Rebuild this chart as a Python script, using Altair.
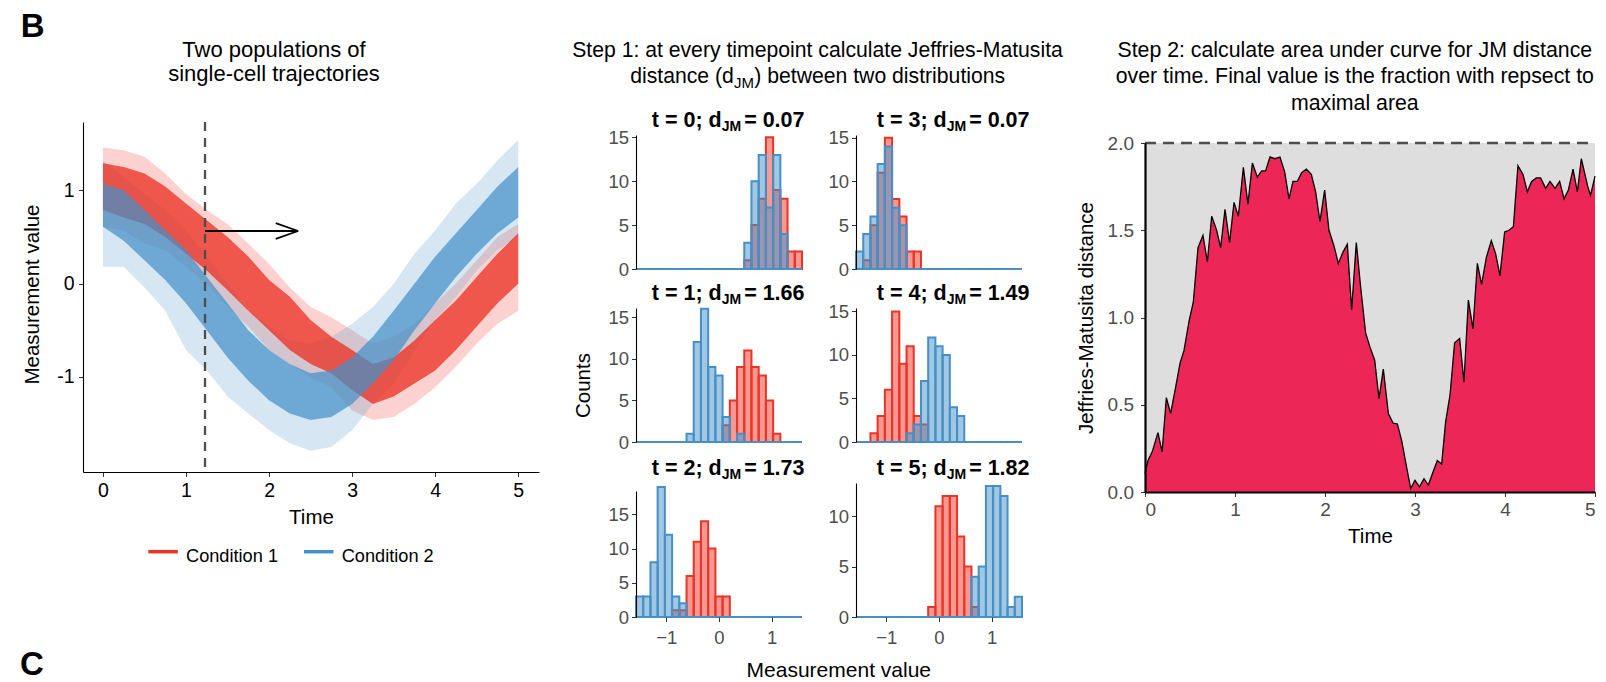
import altair as alt
import pandas as pd

FONT = "Liberation Sans"
RED = "#EC3326"
BLUE = "#4590C8"
CRIMSON = "#EC2657"
PANEL_BG = "#DEDEDE"
GRAY = "#4D4D4D"
TICK = "#333333"

# ---------------- Left panel: envelopes of the single-cell trajectories ----------------
TIME = [0.0, 0.25, 0.5, 0.75, 1.0, 1.25, 1.5, 1.75, 2.0, 2.25, 2.5, 2.75,
        3.0, 3.25, 3.5, 3.75, 4.0, 4.25, 4.5, 4.75, 5.0]
RED_OUTER_HI = [1.46, 1.43, 1.36, 1.18, 0.96, 0.79, 0.64, 0.43, 0.21, -0.04, -0.25, -0.36,
                -0.50, -0.64, -0.57, -0.43, -0.21, 0.00, 0.25, 0.50, 0.64]
RED_CORE_HI = [1.29, 1.25, 1.18, 1.04, 0.86, 0.68, 0.50, 0.29, 0.04, -0.14, -0.39, -0.57,
               -0.71, -0.86, -0.79, -0.61, -0.39, -0.18, 0.07, 0.32, 0.54]
RED_CORE_LO = [0.79, 0.71, 0.64, 0.50, 0.32, 0.14, -0.07, -0.29, -0.50, -0.71, -0.86, -0.96,
               -1.14, -1.29, -1.21, -1.07, -0.93, -0.71, -0.46, -0.21, 0.00]
RED_OUTER_LO = [0.61, 0.57, 0.43, 0.36, 0.18, 0.00, -0.25, -0.46, -0.71, -0.86, -1.00, -1.11,
                -1.36, -1.46, -1.43, -1.29, -1.11, -0.89, -0.64, -0.43, -0.29]
BLUE_OUTER_HI = [1.32, 1.14, 0.96, 0.79, 0.57, 0.29, 0.00, -0.29, -0.46, -0.61, -0.64, -0.57,
                 -0.43, -0.25, 0.00, 0.32, 0.57, 0.86, 1.07, 1.32, 1.54]
BLUE_CORE_HI = [1.07, 1.00, 0.79, 0.57, 0.36, 0.07, -0.21, -0.50, -0.71, -0.86, -0.96, -0.93,
                -0.79, -0.57, -0.29, 0.00, 0.29, 0.54, 0.79, 1.04, 1.25]
BLUE_CORE_LO = [0.61, 0.46, 0.25, 0.04, -0.21, -0.50, -0.79, -1.04, -1.25, -1.39, -1.46, -1.43,
                -1.29, -1.07, -0.82, -0.50, -0.21, 0.07, 0.32, 0.54, 0.71]
BLUE_OUTER_LO = [0.18, 0.18, -0.04, -0.29, -0.71, -0.93, -1.21, -1.39, -1.57, -1.71, -1.79, -1.75,
                 -1.57, -1.29, -1.07, -0.71, -0.39, -0.14, 0.14, 0.36, 0.50]
VLINE_T = [1.229]
ARROW_T0 = [1.229, 2.35, 2.35]
ARROW_T1 = [2.35, 2.08, 2.08]
ARROW_Y0 = [0.564, 0.564, 0.564]
ARROW_Y1 = [0.564, 0.648, 0.480]
LEGEND_LABELS = ["Condition 1", "Condition 2"]

# ---------------- Middle panel: histograms ----------------
EDGES = [-1.573, -1.436, -1.299, -1.163, -1.026, -0.889, -0.752, -0.615, -0.479, -0.342,
         -0.205, -0.068, 0.068, 0.205, 0.342, 0.479, 0.615, 0.752, 0.889, 1.026, 1.163,
         1.299, 1.436, 1.573]
PANEL_T = ["0", "3", "1", "4", "2", "5"]
PANEL_D = ["0.07", "0.07", "1.66", "1.49", "1.73", "1.82"]
RED_COUNTS = [
    [0, 0, 0, 0, 0, 0, 0, 0, 0, 0, 0, 0, 0, 0, 0, 1, 5, 8, 15, 9, 8, 2, 2],
    [0, 1, 5, 11, 15, 8, 6, 2, 2, 0, 0, 0, 0, 0, 0, 0, 0, 0, 0, 0, 0, 0, 0],
    [0, 0, 0, 0, 0, 0, 0, 0, 0, 0, 0, 0, 2, 5, 9, 11, 9, 8, 5, 1, 0, 0, 0],
    [0, 0, 1, 3, 6, 15, 9, 11, 3, 2, 0, 0, 0, 0, 0, 0, 0, 0, 0, 0, 0, 0, 0],
    [0, 0, 0, 0, 0, 1, 1, 6, 11, 14, 10, 3, 3, 0, 0, 0, 0, 0, 0, 0, 0, 0, 0],
    [0, 0, 0, 0, 0, 0, 0, 0, 0, 0, 1, 11, 12, 12, 8, 5, 1, 0, 0, 0, 0, 0, 0],
]
BLUE_COUNTS = [
    [0, 0, 0, 0, 0, 0, 0, 0, 0, 0, 0, 0, 0, 0, 0, 3, 10, 13, 7, 13, 4, 0, 0],
    [2, 4, 6, 12, 14, 7, 5, 0, 0, 0, 0, 0, 0, 0, 0, 0, 0, 0, 0, 0, 0, 0, 0],
    [0, 0, 0, 0, 0, 0, 0, 1, 12, 16, 9, 8, 3, 0, 1, 0, 0, 0, 0, 0, 0, 0, 0],
    [0, 0, 0, 0, 0, 0, 0, 1, 2, 7, 12, 11, 10, 4, 3, 0, 0, 0, 0, 0, 0, 0, 0],
    [3, 3, 8, 19, 12, 3, 2, 0, 0, 0, 0, 0, 0, 0, 0, 0, 0, 0, 0, 0, 0, 0, 0],
    [0, 0, 0, 0, 0, 0, 0, 0, 0, 0, 0, 0, 0, 0, 0, 0, 4, 5, 13, 13, 12, 1, 2],
]
Y_TOP = [15.27, 15.3, 16.1, 15.4, 18.4, 13.3]
Y_TICKS = [[0, 5, 10, 15], [0, 5, 10, 15], [0, 5, 10, 15], [0, 5, 10, 15], [0, 5, 10, 15], [0, 5, 10]]
X_TICKS_MID = [-1, 0, 1]

# ---------------- Right panel: JM distance over time ----------------
JM_T = [0, 0.033, 0.08, 0.144, 0.19, 0.237, 0.285, 0.34, 0.39, 0.433, 0.49, 0.537, 0.589,
        0.644, 0.693, 0.741, 0.796, 0.84, 0.889, 0.94, 0.989, 1.037, 1.093, 1.144, 1.193,
        1.248, 1.296, 1.34, 1.389, 1.444, 1.5, 1.552, 1.6, 1.644, 1.693, 1.74, 1.793, 1.848,
        1.896, 1.944, 1.996, 2.044, 2.1, 2.148, 2.2, 2.248, 2.296, 2.348, 2.396, 2.452, 2.5,
        2.552, 2.6, 2.648, 2.704, 2.756, 2.804, 2.852, 2.904, 2.952, 3.0, 3.05, 3.1, 3.148,
        3.2, 3.248, 3.296, 3.34, 3.39, 3.44, 3.496, 3.544, 3.593, 3.644, 3.693, 3.74, 3.793,
        3.848, 3.896, 3.944, 3.996, 4.044, 4.093, 4.144, 4.2, 4.248, 4.296, 4.348, 4.396,
        4.452, 4.5, 4.556, 4.607, 4.656, 4.704, 4.756, 4.804, 4.848, 4.92, 4.95, 5.0]
JM_V = [0.105, 0.18, 0.23, 0.34, 0.23, 0.54, 0.45, 0.60, 0.74, 0.81, 0.98, 1.09, 1.40,
        1.47, 1.32, 1.58, 1.50, 1.40, 1.62, 1.43, 1.66, 1.58, 1.86, 1.65, 1.885, 1.805,
        1.84, 1.84, 1.92, 1.91, 1.92, 1.835, 1.68, 1.78, 1.78, 1.83, 1.85, 1.82, 1.72,
        1.55, 1.73, 1.50, 1.41, 1.31, 1.375, 1.42, 1.045, 1.43, 1.175, 0.91, 0.83, 0.755,
        0.535, 0.705, 0.45, 0.395, 0.39, 0.295, 0.15, 0.02, 0.067, 0.03, 0.076, 0.04,
        0.115, 0.18, 0.16, 0.40, 0.56, 0.855, 0.88, 0.63, 1.10, 0.935, 1.31, 1.19, 1.345,
        1.44, 1.365, 1.24, 1.49, 1.50, 1.52, 1.87, 1.82, 1.72, 1.78, 1.80, 1.80, 1.74,
        1.78, 1.74, 1.78, 1.68, 1.73, 1.85, 1.72, 1.91, 1.75, 1.70, 1.81]
JM_MAX = 2.0


# ---------------- helpers ----------------
def text_layer(s, x, y, size, weight="normal", align="center", color="black"):
    return alt.Chart(pd.DataFrame({"s": [s]})).mark_text(
        font=FONT, fontSize=size, fontWeight=weight, align=align,
        baseline="alphabetic", color=color
    ).encode(text="s:N", x=alt.value(x), y=alt.value(y))


def fence(x1, x2, y1, y2):
    # invisible box that fixes the layout extent of a view
    return alt.Chart(pd.DataFrame({"f": [0]})).mark_rect(opacity=0).encode(
        x=alt.value(x1), x2=alt.value(x2), y=alt.value(y1), y2=alt.value(y2))


# ================= LEFT =================
rows = []
for cond, levels in (("Condition 1", (("outer", RED_OUTER_LO, RED_OUTER_HI), ("core", RED_CORE_LO, RED_CORE_HI))),
                     ("Condition 2", (("outer", BLUE_OUTER_LO, BLUE_OUTER_HI), ("core", BLUE_CORE_LO, BLUE_CORE_HI)))):
    for level, lo, hi in levels:
        for t, a, b in zip(TIME, lo, hi):
            rows.append({"cond": cond, "level": level, "t": t, "lo": a, "hi": b})
band_df = pd.DataFrame(rows)

LW, LH = 456, 350
x_ax_left = alt.Axis(values=[0, 1, 2, 3, 4, 5], title="Time", titleFontSize=20.5, titleFontWeight="normal",
                     titleColor="black", titleY=51.6, titleBaseline="alphabetic",
                     labelFontSize=19.5, labelColor="black", labelBaseline="middle", labelPadding=13.8,
                     tickColor=TICK, tickSize=4.5, domainColor="black", domainWidth=1.1, grid=False, zindex=1)
y_ax_left = alt.Axis(values=[-1, 0, 1], title="Measurement value", titleFontSize=20.5, titleFontWeight="normal",
                     titleColor="black", titleX=-50.4, titleY=172, titleAngle=270, titleAlign="center",
                     titleBaseline="middle", labelFontSize=19.5, labelColor="black", labelPadding=4.5,
                     labelExpr="replace(datum.label, '\u2212', '-')",
                     tickColor=TICK, tickSize=4.5, domainColor="black", domainWidth=1.1, grid=False, zindex=1)
xl = alt.X("t:Q", scale=alt.Scale(domain=[-0.24, 5.25]), axis=x_ax_left)
yl = alt.Y("lo:Q", scale=alt.Scale(domain=[-2.018, 1.732]), axis=y_ax_left)


def band(cond, level, color, op):
    d = band_df[(band_df.cond == cond) & (band_df.level == level)]
    return alt.Chart(d).mark_area(color=color, opacity=op).encode(x=xl, y=yl, y2="hi:Q")


vline = alt.Chart(pd.DataFrame({"t": VLINE_T})).mark_rule(
    color=GRAY, strokeWidth=2.3, strokeDash=[9, 7]).encode(x=xl)
arrow = alt.Chart(pd.DataFrame({"t": ARROW_T0, "t2": ARROW_T1, "lo": ARROW_Y0, "hi": ARROW_Y1})).mark_rule(
    color="black", strokeWidth=1.8).encode(x=xl, x2="t2:Q", y=yl, y2="hi:Q")


def legend_item(x0, color, label):
    line = alt.Chart(pd.DataFrame({"f": [0]})).mark_rule(color=color, strokeWidth=3.5).encode(
        x=alt.value(x0), x2=alt.value(x0 + 29.5), y=alt.value(429.7), y2=alt.value(429.7))
    txt = text_layer(label, x0 + 37.7, 439.7, 18.2, align="left")
    return [line, txt]


left_plot = alt.layer(
    band("Condition 1", "outer", RED, 0.22),
    band("Condition 2", "outer", BLUE, 0.22),
    band("Condition 1", "core", RED, 0.78),
    band("Condition 2", "core", BLUE, 0.72),
    vline, arrow,
    *legend_item(65.3, RED, LEGEND_LABELS[0]),
    *legend_item(221.0, BLUE, LEGEND_LABELS[1]),
    text_layer("C", -63, 553, 33, weight="bold", align="left"),
    fence(-83, 477, -4, 350),
).properties(width=LW, height=LH)

left_title = alt.layer(
    fence(-83, 477, -30, 88),
    text_layer("B", -62.3, 6.7, 33, weight="bold", align="left"),
    text_layer("Two populations of", 191, 26.7, 22),
    text_layer("single-cell trajectories", 191, 51, 22),
).properties(width=1, height=88)

left = alt.concat(left_title, left_plot, columns=1, spacing=0, align="each")

# ================= MIDDLE =================
CW, CH = 166, 134


def hist_cell(i):
    row, col = divmod(i, 2)
    df_r = pd.DataFrame({"x0": EDGES[:-1], "x1": EDGES[1:], "n": RED_COUNTS[i]})
    df_b = pd.DataFrame({"x0": EDGES[:-1], "x1": EDGES[1:], "n": BLUE_COUNTS[i]})
    if row == 2:
        xaxis = alt.Axis(values=X_TICKS_MID, domain=False, tickColor=TICK, tickSize=4.5, labelColor=GRAY,
                         labelFontSize=18.5, labelBaseline="middle", labelPadding=16.3, title=None,
                         grid=False, zindex=1)
    else:
        xaxis = None
    if i == 4:
        ys = alt.Scale(domain=[0, Y_TOP[i]], range=[CH, 8])
    else:
        ys = alt.Scale(domain=[0, Y_TOP[i]])
    yargs = dict(values=Y_TICKS[i], format="d", domainColor="black", domainWidth=1.1, tickColor=TICK,
                 tickSize=4.5, labelColor=GRAY, labelFontSize=18.5, labelPadding=3, grid=False, zindex=1)
    if i == 2:
        yaxis = alt.Axis(title="Counts", titleFontSize=20.5, titleFontWeight="normal", titleColor="black",
                         titleX=-52.5, titleY=77, titleAngle=270, titleAlign="center",
                         titleBaseline="middle", **yargs)
    else:
        yaxis = alt.Axis(title=None, **yargs)
    enc = dict(x=alt.X("x0:Q", scale=alt.Scale(domain=[EDGES[0], EDGES[-1]]), axis=xaxis),
               x2="x1:Q", y=alt.Y("n:Q", scale=ys, axis=yaxis), y2=alt.datum(0))
    red = alt.Chart(df_r).mark_rect(fill=RED, fillOpacity=0.5, stroke=RED, strokeWidth=2).encode(**enc)
    blue = alt.Chart(df_b).mark_rect(fill=BLUE, fillOpacity=0.5, stroke=BLUE, strokeWidth=2).encode(**enc)
    R = 168.5 if col == 0 else 173.5
    w3 = 60.4
    wjm = 19.4
    p3 = text_layer("= " + PANEL_D[i], R, -7.7, 21.5, weight="bold", align="right")
    sub = text_layer("JM", R - w3 - 3, -3.7, 14, weight="bold", align="right")
    p1 = text_layer("t = " + PANEL_T[i] + "; d", R - w3 - 3 - wjm, -7.7, 21.5, weight="bold", align="right")
    xl_, xr_ = (-76, 176) if col == 0 else (-44, 214)
    # fences: the "0" tick label reaches ~143 below the origin, titles ~25 above
    yt_ = [-33, -27, -29][row]
    yb_ = 166 if row == 2 else 146
    return alt.layer(red, blue, p1, sub, p3, fence(xl_, xr_, yt_, yb_)).properties(width=CW, height=CH)


grid = alt.concat(*[hist_cell(i) for i in range(6)], columns=2, spacing=0, align="each")

mid_title = alt.layer(
    fence(-76, 432, 0, 72),
    text_layer("Step 1: at every timepoint calculate Jeffries-Matusita", 181.5, 27, 21.2),
    text_layer("distance (d", -5.8, 53.3, 21.2, align="left"),
    text_layer("JM", 97.9, 58.3, 15, align="left"),
    text_layer(") between two distributions", 118.3, 53.3, 21.2, align="left"),
).properties(width=1, height=72)

mid_bottom = alt.layer(
    fence(-76, 432, 0, 1),
    text_layer("Measurement value", 202.8, 27.5, 21),
).properties(width=1, height=1)

middle = alt.concat(mid_title, grid, mid_bottom, columns=1, spacing=0, align="each")

# ================= RIGHT =================
RW, RH = 450, 349
jm_df = pd.DataFrame({"t": JM_T, "v": JM_V})
x_ax_r = alt.Axis(values=[0, 1, 2, 3, 4, 5], title="Time", titleFontSize=20.5, titleFontWeight="normal",
                  titleColor="black", titleY=50.6, titleBaseline="alphabetic",
                  labelFontSize=19, labelColor=GRAY, labelBaseline="middle", labelPadding=12.8,
                  tickColor=TICK, tickSize=4.5, domainColor="black", domainWidth=2.2, grid=False, zindex=1)
y_ax_r = alt.Axis(values=[0, 0.5, 1, 1.5, 2], format=".1f", title="Jeffries-Matusita distance",
                  titleFontSize=20.5, titleFontWeight="normal", titleColor="black", titleX=-59,
                  titleY=174.5, titleAngle=270, titleAlign="center", titleBaseline="middle",
                  labelFontSize=19, labelColor=GRAY, labelPadding=7, tickColor=TICK, tickSize=4.5,
                  domainColor="black", domainWidth=2.2, grid=False, zindex=1)
xr = alt.X("t:Q", scale=alt.Scale(domain=[0, 5]), axis=x_ax_r)
yr = alt.Y("v:Q", scale=alt.Scale(domain=[0, JM_MAX]), axis=y_ax_r)

bg = alt.Chart(pd.DataFrame({"t": [0], "t2": [5], "v": [0], "v2": [JM_MAX]})).mark_rect(
    color=PANEL_BG).encode(x=xr, x2="t2:Q", y=yr, y2="v2:Q")
area = alt.Chart(jm_df).mark_area(color=CRIMSON, opacity=1).encode(x=xr, y=yr, y2=alt.datum(0))
curve = alt.Chart(jm_df).mark_line(color="black", strokeWidth=1.3).encode(x=xr, y=yr)
maxline = alt.Chart(pd.DataFrame({"t": [0], "t2": [5], "v": [JM_MAX]})).mark_rule(
    color=GRAY, strokeWidth=2.5, strokeDash=[11, 7]).encode(x=xr, x2="t2:Q", y=yr)

right_plot = alt.layer(bg, area, curve, maxline, fence(-75, 460, -14, RH)).properties(width=RW, height=RH)

right_title = alt.layer(
    fence(-75, 460, 0, 99),
    text_layer("Step 2: calculate area under curve for JM distance", 209.8, 26.7, 21.3),
    text_layer("over time. Final value is the fraction with repsect to", 209.8, 53.3, 21.3),
    text_layer("maximal area", 209.8, 80, 21.3),
).properties(width=1, height=99)

right = alt.concat(right_title, right_plot, columns=1, spacing=0, align="each")

chart = alt.concat(left, middle, right, columns=3, spacing=0, align="each").properties(
    padding=0
).configure(font=FONT).configure_view(stroke=None)

chart.save("out.html", embed_options={"renderer": "svg", "actions": False})
